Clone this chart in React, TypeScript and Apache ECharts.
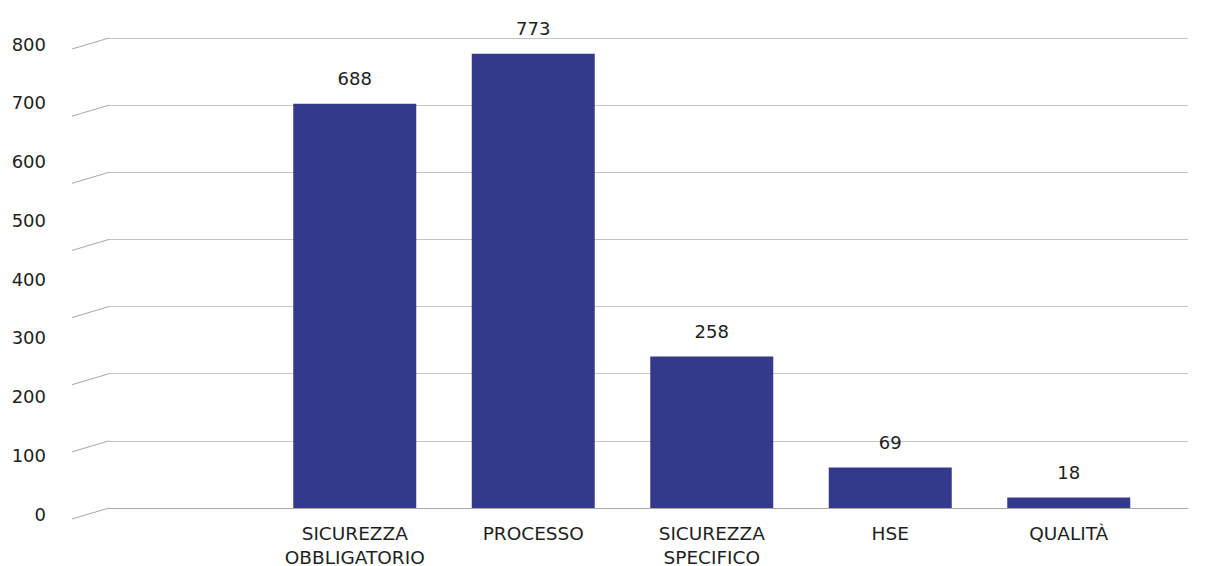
import React, { useEffect, useRef } from "react";
import * as echarts from "echarts";

const categories = ["", "SICUREZZA\nOBBLIGATORIO", "PROCESSO", "SICUREZZA\nSPECIFICO", "HSE", "QUALITÀ"];
const values: (number | string)[] = ["-", 688, 773, 258, 69, 18];
// back-wall gridlines (the 3D wall has 7 bands, independent from the 9 front labels)
const backGridSteps = [0, 1, 2, 3, 4, 5, 6, 7];

const FONT = "'DejaVu Sans', 'Open Sans', sans-serif";
const TEXT = "#1e1e1e";
const BAR = "#33398b";
const GRID_C = "#c4c4c4";
const EDGE_C = "#a8a8a8";

export default function App() {
  const ref = useRef<HTMLDivElement>(null);
  useEffect(() => {
    if (!ref.current) return;
    const chart = echarts.init(ref.current, undefined, { renderer: "svg" });
    chart.setOption({
      animation: false,
      backgroundColor: "#ffffff",
      textStyle: { fontFamily: FONT },
      grid: [
        { left: 87, right: 59, top: 38, bottom: 58, outerBoundsMode: "none", containLabel: false },
        { left: 109, right: 29, top: 38, bottom: 58, outerBoundsMode: "none", containLabel: false },
        { left: 72, width: 37, top: 38, bottom: 58, outerBoundsMode: "none", containLabel: false },
        { left: 72, width: 37, top: 44, bottom: 52, outerBoundsMode: "none", containLabel: false },
      ],
      xAxis: [
        {
          type: "category",
          gridIndex: 0,
          data: categories,
          axisLine: { show: false },
          axisTick: { show: false },
          axisLabel: {
            interval: 0,
            color: TEXT,
            fontSize: 18.5,
            lineHeight: 24,
            margin: 13,
            fontFamily: FONT,
          },
        },
        {
          type: "value",
          gridIndex: 1,
          min: 0,
          max: 1,
          axisLine: { show: true, lineStyle: { color: EDGE_C, width: 1 } },
          axisTick: { show: false },
          axisLabel: { show: false },
          splitLine: { show: false },
        },
        { type: "value", gridIndex: 2, min: 0, max: 1, show: false },
        { type: "value", gridIndex: 3, min: 0, max: 1, show: false },
      ],
      yAxis: [
        { type: "value", gridIndex: 0, min: 0, max: 800, interval: 100, show: false },
        {
          type: "value",
          gridIndex: 1,
          min: 0,
          max: 7,
          interval: 1,
          axisLine: { show: false },
          axisTick: { show: false },
          axisLabel: { show: false },
          splitLine: { show: true, lineStyle: { color: GRID_C, width: 1 } },
        },
        { type: "value", gridIndex: 2, min: 0, max: 7, interval: 1, show: false },
        {
          type: "value",
          gridIndex: 3,
          min: 0,
          max: 800,
          interval: 100,
          axisLine: { show: false },
          axisTick: { show: false },
          splitLine: { show: false },
          axisLabel: { color: TEXT, fontSize: 18, margin: 26, fontFamily: FONT },
        },
      ],
      series: [
        {
          type: "bar",
          xAxisIndex: 0,
          yAxisIndex: 0,
          data: values,
          barWidth: 123,
          itemStyle: { color: BAR },
          label: {
            show: true,
            position: "top",
            distance: 16,
            color: TEXT,
            fontSize: 18,
            fontFamily: FONT,
          },
        },
        {
          type: "custom",
          xAxisIndex: 2,
          yAxisIndex: 2,
          clip: false,
          silent: true,
          data: backGridSteps.map((v) => [0, v]),
          renderItem: (_params: any, api: any) => {
            const v = api.value(1);
            const p0 = api.coord([0, v]);
            const p1 = api.coord([1, v]);
            return {
              type: "line",
              shape: { x1: p0[0], y1: p0[1] + 11, x2: p1[0], y2: p1[1] },
              style: { stroke: EDGE_C, lineWidth: 1 },
            };
          },
        },
      ],
    });
    return () => chart.dispose();
  }, []);
  return (
    <div
      ref={ref}
      style={{ position: "absolute", left: 0, top: 0, width: 1217, height: 566 }}
    />
  );
}
